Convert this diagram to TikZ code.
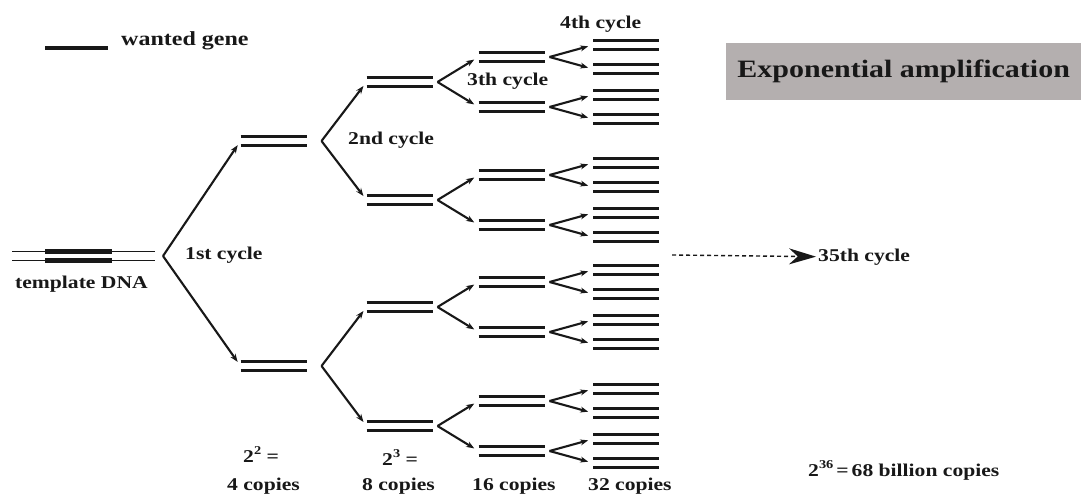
\documentclass[tikz,border=0pt]{standalone}
\usepackage{fontspec}
\setmainfont{Liberation Serif}[FakeStretch=1.2]
\usetikzlibrary{calc,arrows.meta}
\definecolor{ink}{RGB}{24,24,24}
\definecolor{panel}{RGB}{180,175,175}
\tikzset{
  every node/.style={text=ink, font=\fontsize{18}{20}\selectfont\bfseries},
  duplex/.style={minimum width=66pt, minimum height=9pt, inner sep=0pt, outer sep=0pt},
  strand/.style={draw=ink, line width=3.5pt},
  thinstrand/.style={draw=ink, line width=1.5pt},
  genepart/.style={draw=ink, line width=4.5pt},
  branch/.style={draw=ink, line width=2.1pt, shorten >=5pt, -{Stealth[length=8pt,width=6pt]}},
  label/.style={inner sep=0pt, anchor=base west},
  farcycle/.style={draw=ink, line width=1.4pt, dash pattern=on 4pt off 3pt,
    shorten >=2pt, -{Stealth[length=27pt,width=16pt]}},
}
% a double-stranded copy: two parallel strands along the node's top and bottom edges
\newcommand\duplexat[3]{%
  \node[duplex] (#1) at (#2,#3) {};
  \draw[strand] (#1.north west) -- (#1.north east) (#1.south west) -- (#1.south east);}
% one cycle: the parent splits into two children
\newcommand\fork[5]{%
  \coordinate (#1) at ($(#2.east)+(#3,0)$);
  \draw[branch] (#1) -- (#4.west);
  \draw[branch] (#1) -- (#5.west);}
\newcommand\upidx[1]{\raisebox{8pt}{\fontsize{12}{12}\selectfont #1}}
\begin{document}
\begin{tikzpicture}[x=1pt,y=-1pt]
  \fill[white] (0,0) rectangle (1081,497);
  \useasboundingbox (0,0) rectangle (1081,497);

  % legend
  \node[label, font=\fontsize{20}{22}\selectfont\bfseries] (wg) at (121,46) {wanted gene};
  \coordinate (lg) at (45,48);
  \draw[strand] (lg) -- ++(63,0);

  % template DNA with the wanted gene region
  \node[duplex, minimum width=143pt] (tmpl) at (83.5,256) {};
  \draw[thinstrand] (tmpl.north west) -- (tmpl.north east) (tmpl.south west) -- (tmpl.south east);
  \draw[genepart] ($(tmpl.north west)+(33,0)$) -- ++(67,0);
  \draw[genepart] ($(tmpl.south west)+(33,0)$) -- ++(67,0);
  \node[label] (tdna) at (15,288) {template DNA};

  % copies after each cycle
  \duplexat{a1}{273.5}{141}
  \duplexat{a2}{273.5}{366}
  \foreach \i/\y in {1/82,2/200,3/307,4/426}{\duplexat{b\i}{399.5}{\y}}
  \foreach \i/\y in {1/57,2/107,3/175,4/225,5/282,6/332,7/401,8/451}{\duplexat{c\i}{511.5}{\y}}
  \foreach \i/\y in {1/45,2/69,3/95,4/119,5/163,6/187,7/213,8/237,
                     9/270,10/294,11/320,12/344,13/389,14/413,15/439,16/463}{\duplexat{d\i}{626}{\y}}

  % branching
  \fork{v0}{tmpl}{8}{a1}{a2}
  \fork{va1}{a1}{15}{b1}{b2}
  \fork{va2}{a2}{15}{b3}{b4}
  \foreach \i in {1,...,4}{
    \pgfmathtruncatemacro\ja{2*\i-1}\pgfmathtruncatemacro\jb{2*\i}
    \fork{vb\i}{b\i}{5}{c\ja}{c\jb}}
  \foreach \i in {1,...,8}{
    \pgfmathtruncatemacro\ja{2*\i-1}\pgfmathtruncatemacro\jb{2*\i}
    \fork{vc\i}{c\i}{5}{d\ja}{d\jb}}

  % cycle labels
  \node[label] (cyc1) at (185,259) {1st cycle};
  \node[label] (cyc2) at (348,145) {2nd cycle};
  \node[label] (cyc3) at (467,86) {3th cycle};
  \node[label] (cyc4) at (560,29) {4th cycle};

  % copy counts
  \node[label] (p2) at (243,462) {2\upidx{2} =};
  \node[label] (p3) at (382,465) {2\upidx{3} =};
  \node[label] (n4) at (227,490) {4 copies};
  \node[label] (n8) at (362,490) {8 copies};
  \node[label] (n16) at (472,490) {16 copies};
  \node[label] (n32) at (588,490) {32 copies};
  \node[label] (p36) at (808,476) {2\upidx{36}\,=\,68 billion copies};

  % continuation to the 35th cycle
  \node[label] (c35) at (818,261) {35th cycle};
  \coordinate (dstart) at (672,255);
  \draw[farcycle] (dstart) -- (c35.west);

  % heading
  \node[fill=panel, minimum width=355pt, minimum height=57pt, anchor=north west, inner sep=0pt,
        font=\fontsize{25}{28}\selectfont\bfseries] (hdr) at (726,43) {Exponential amplification};
\end{tikzpicture}
\end{document}
